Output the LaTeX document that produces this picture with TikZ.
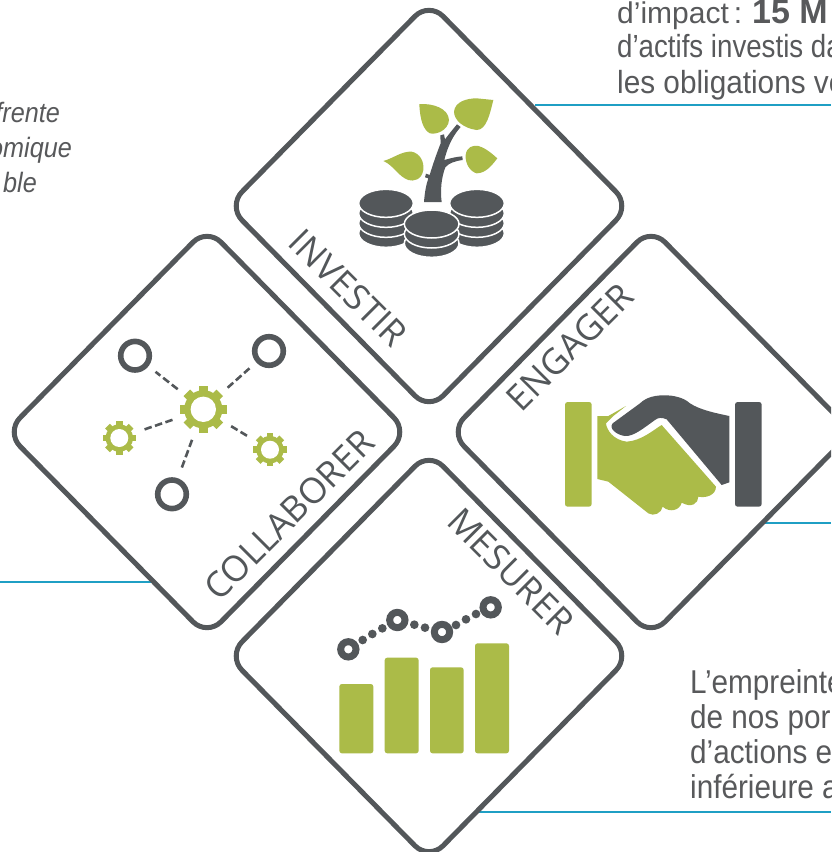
\documentclass[tikz,border=0pt]{standalone}
\usepackage{fontspec}
\setmainfont{Liberation Sans}
\newfontfamily\labfont{Open Sans}
\definecolor{ink}{HTML}{53575A}
\definecolor{leaf}{HTML}{ABBB48}
\definecolor{rule}{HTML}{1F9FC4}
\definecolor{txt}{HTML}{58595B}
\tikzset{
  tile/.style={draw=ink,line width=5pt,rounded corners=20pt,fill=white},
  tilelabel/.style={text=ink,font=\labfont\fontsize{35.5}{36}\selectfont,inner sep=0pt},
  rulebar/.style={draw=rule,line width=2pt},
  toptext/.style={text=txt,anchor=base west,inner sep=0pt,xscale=.93,font=\fontsize{32}{32}\selectfont},
  bodytext/.style={text=txt,anchor=base west,inner sep=0pt,xscale=.9,font=\fontsize{33}{33}\selectfont},
  sidetext/.style={text=txt,anchor=base east,inner sep=0pt,font=\itshape\fontsize{28}{28}\selectfont,xscale=.9},
  ringnode/.style={circle,draw=ink,line width=5.6pt,minimum size=28.6pt,inner sep=0pt},
  link/.style={draw=ink,line width=2.6pt,dash pattern=on 7.5pt off 3.5pt,shorten <=9pt,shorten >=9pt},
  coin/.style={fill=ink,draw=white,line width=1.5pt},
  barshape/.style={fill=leaf,rounded corners=2.6pt}
}
\newcommand{\tilepath}[2]{(#1,#2-204) -- (#1+201,#2) -- (#1,#2+204) -- (#1-201,#2) -- cycle}
\newcommand{\gearicon}[4]{% cx cy outer hole
  \foreach \a in {0,45,...,315}{
    \fill[leaf,rotate around={\a:(#1,#2)}] (#1-#3*.2,#2-#3) rectangle (#1+#3*.2,#2);
  }
  \fill[leaf] (#1,#2) circle ({#3*.82});
  \fill[white] (#1,#2) circle (#4);
}
\begin{document}
\begin{tikzpicture}[x=1pt,y=-1pt]
\useasboundingbox (0,0) rectangle (831,852);
\clip (0,0) rectangle (831,852);
\fill[white] (0,0) rectangle (831,852);

% rules
\draw[rulebar] (535,105) -- (831,105);
\draw[rulebar] (0,582) -- (160,582);
\draw[rulebar] (755,523) -- (831,523);
\draw[rulebar] (475,812) -- (831,812);

% texts
\node[text=txt,anchor=base west,inner sep=0pt,font=\fontsize{30}{30}\selectfont] (t1) at (617,23) {d’impact\,:\kern10pt\fontsize{34}{34}\selectfont\textbf{15 M}};
\node[toptext,xscale=.93] (t2) at (617,57) {d’actifs investis da};
\node[toptext] (t3) at (617,93) {les obligations ve};
\node[bodytext] (b1) at (690,693) {L’empreinte};
\node[bodytext] (b2) at (690,728) {de nos por};
\node[bodytext] (b3) at (690,763) {d’actions e};
\node[bodytext] (b4) at (690,798) {inférieure a};
\node[sidetext] (s1) at (60,122) {frente};
\node[sidetext] (s2) at (72,157) {omique};
\node[sidetext] (s3) at (37,192) {ble};

% tiles
\draw[tile] \tilepath{429}{206};
\draw[tile] \tilepath{207}{432};
\draw[tile] \tilepath{651}{432};
\draw[tile] \tilepath{429}{656};

% tile labels
\node[tilelabel,rotate=-45] (linvest) at (348,288) {INVESTIR};
\node[tilelabel,rotate=45] (lcollab) at (289,515) {COLLABORER};
\node[tilelabel,rotate=45] (lengage) at (570,347) {ENGAGER};
\node[tilelabel,rotate=-45] (lmesure) at (511,571) {MESURER};

% investir icon
\begin{scope}[shift={(330,80)},x=1pt/3,y=-1pt/3]
  \fill[leaf] (268,72) .. controls (310,70) and (355,85) .. (357,120) .. controls (355,150) and (320,165) .. (300,160) .. controls (280,150) and (270,120) .. (268,72) -- cycle;
  \fill[leaf] (490,60) .. controls (480,100) and (470,150) .. (440,150) .. controls (400,145) and (372,120) .. (372,95) .. controls (375,65) and (410,55) .. (440,55) -- cycle;
  \fill[leaf] (502,235) .. controls (490,250) and (470,280) .. (440,280) .. controls (420,275) and (405,250) .. (407,225) .. controls (410,200) and (430,195) .. (445,198) .. controls (470,205) and (490,225) .. (502,235) -- cycle;
  \fill[leaf] (160,243) .. controls (190,235) and (215,213) .. (245,215) .. controls (270,220) and (283,245) .. (280,270) .. controls (275,300) and (250,305) .. (235,300) .. controls (205,290) and (190,255) .. (160,243) -- cycle;
  \fill[ink] (282,366) .. controls (284,340) and (288,315) .. (295,295) -- (285,292) -- (288,281) -- (299,285) .. controls (308,255) and (320,220) .. (332,190) -- (331,166) -- (342,163) -- (345,178) .. controls (355,165) and (368,148) .. (381,133) -- (392,141) .. controls (375,160) and (355,190) .. (343,240) .. controls (360,235) and (380,230) .. (397,229) -- (398,240) .. controls (375,243) and (355,250) .. (346,262) .. controls (335,290) and (330,330) .. (335,366) -- cycle;
  \filldraw[coin] (168,460) ellipse [x radius=82,y radius=42];
  \filldraw[coin] (168,430) ellipse [x radius=82,y radius=42];
  \filldraw[coin] (168,400) ellipse [x radius=82,y radius=42];
  \filldraw[coin] (168,370) ellipse [x radius=82,y radius=42];
  \filldraw[coin] (441,460) ellipse [x radius=82,y radius=42];
  \filldraw[coin] (441,430) ellipse [x radius=82,y radius=42];
  \filldraw[coin] (441,400) ellipse [x radius=82,y radius=42];
  \filldraw[coin] (441,370) ellipse [x radius=82,y radius=42];
  \filldraw[coin] (305,490) ellipse [x radius=82,y radius=42];
  \filldraw[coin] (305,462) ellipse [x radius=82,y radius=42];
  \filldraw[coin] (305,432) ellipse [x radius=82,y radius=42];
\end{scope}

% collaborer icon
\node[ringnode] (r1) at (135,355.7) {};
\node[ringnode] (r2) at (269,351) {};
\node[ringnode] (r3) at (172,494.3) {};
\node[circle,minimum size=46.7pt,inner sep=0pt] (g0) at (203.3,409.3) {};
\node[circle,minimum size=33.3pt,inner sep=0pt] (g1) at (119.3,438) {};
\node[circle,minimum size=33.3pt,inner sep=0pt] (g2) at (270,449.7) {};
\gearicon{203.3}{409.3}{23.3}{12.7}
\gearicon{119.3}{438}{16.7}{9}
\gearicon{270}{449.7}{16.7}{9}
\draw[link] (g0) -- (r1);
\draw[link] (g0) -- (r2);
\draw[link] (g0) -- (r3);
\draw[link] (g0) -- (g1);
\draw[link] (g0) -- (g2);

% engager icon
\begin{scope}[shift={(550,380)},x=1pt/3,y=-1pt/3]
  \fill[leaf,rounded corners=2.6pt] (45,66) rectangle (125,380);
  \fill[ink,rounded corners=2.6pt] (555,66) rectangle (635,380);
  \fill[leaf] (142,108) -- (175,108) -- (228,78) -- (190,108) -- (168,130) .. controls (170,150) and (190,180) .. (230,185) .. controls (275,182) and (310,150) .. (335,135) -- (498,320) .. controls (497,345) and (470,355) .. (445,350) .. controls (445,370) and (425,385) .. (395,368) .. controls (390,390) and (360,400) .. (338,380) .. controls (335,400) and (310,410) .. (295,400) -- (175,305) -- (142,297) -- cycle;
  \fill[ink] (188,130) -- (270,70) .. controls (290,50) and (320,45) .. (350,46) .. controls (385,47) and (410,60) .. (420,70) .. controls (450,90) and (500,100) .. (538,108) -- (538,307) -- (515,315) -- (350,118) .. controls (335,112) and (325,112) .. (315,120) .. controls (280,145) and (250,170) .. (225,168) .. controls (200,165) and (175,145) .. (188,130) -- cycle;
\end{scope}

% mesurer icon
\begin{scope}[shift={(320,590)},x=1pt/3,y=-1pt/3]
  \fill[barshape] (58,282) rectangle (160,490);
  \fill[barshape] (194,203) rectangle (296,490);
  \fill[barshape] (330,232) rectangle (431,490);
  \fill[barshape] (465,160) rectangle (567,490);
  \foreach \px/\py in {85/178,232/90,366/126,512/52}{
    \draw[ink,line width=7pt] (\px,\py) circle (23);
  }
  \foreach \px/\py in {128/150,157/132,187/115,283/104,315/113,408/105,438/88,468/72}{
    \fill[ink] (\px,\py) circle (13);
  }
\end{scope}
\end{tikzpicture}
\end{document}
